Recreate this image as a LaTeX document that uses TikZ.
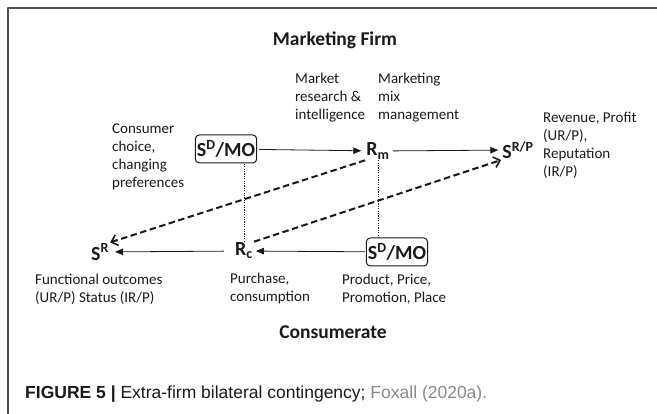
\documentclass[tikz,border=0pt]{standalone}
\usepackage{fontspec}
\setmainfont{Carlito}
\newfontfamily\capfont{Liberation Sans}
\usetikzlibrary{arrows}
\usetikzlibrary{arrows.meta}
\usetikzlibrary{positioning}
\definecolor{ink}{HTML}{1A1A1A}
\definecolor{framegray}{HTML}{505050}
\definecolor{citegray}{HTML}{8A8A8A}
\tikzset{
  sym/.style={font=\fontsize{20}{23}\selectfont\bfseries, inner sep=1pt},
  symbox/.style={sym, draw, rounded corners=4pt, line width=1pt, minimum width=60pt, minimum height=28pt, inner sep=1.5pt},
  lbl/.style={font=\fontsize{15}{18}\selectfont, align=left, anchor=west, inner sep=0pt},
  head/.style={font=\fontsize{19.5}{22}\selectfont\bfseries, inner sep=0pt},
  solidarr/.style={->, line width=0.8pt},
  dasharr/.style={-{Straight Barb[length=6pt,width=11pt,line width=1.6pt]}, line width=2pt, dash pattern=on 6.5pt off 3.5pt},
  link/.style={line width=0.6pt, dash pattern=on 1.2pt off 1.2pt}
}
\begin{document}
\begin{tikzpicture}[line cap=butt,line join=round,>=triangle 45,x=1pt,y=-1pt,color=ink,text=ink]
\useasboundingbox (0,0) rectangle (657,414);
\draw[framegray, line width=1.3pt] (657,8) -- (8,8) -- (8,414);
\node[head] (firm) at (335,40) {Marketing Firm};
\node[symbox] (sdtop) at (226,149) {S\textsuperscript{D}/MO};
\node[sym] (rm) at (378,151) {R\textsubscript{m}};
\node[sym] (srp) at (518,150) {S\textsuperscript{R/P}};
\node[sym] (sr) at (100,252) {S\textsuperscript{R}};
\node[sym] (rc) at (244,251) {R\textsubscript{c}};
\node[symbox] (sdbot) at (397,252) {S\textsuperscript{D}/MO};
\draw[solidarr, shorten <=2pt, shorten >=4pt] (sdtop) -- (rm);
\draw[solidarr, shorten <=2pt, shorten >=3pt] (rm) -- (srp);
\draw[solidarr, shorten <=1pt, shorten >=2pt] (sdbot) -- (rc);
\draw[solidarr, shorten <=10pt, shorten >=5pt] (rc) -- (sr);
\draw[link] (rc.north) -- (rc.north |- sdtop.south);
\draw[link] (rm.south) -- (rm.south |- sdbot.north);
\draw[dasharr] (rm.south west) -- (sr.north east);
\draw[dasharr] (rc.north east) -- (srp.south west);
\node[lbl] (choice) at (112,157) {Consumer\\choice,\\changing\\preferences};
\node[lbl] (research) at (295,98) {Market\\research \&\\intelligence};
\node[lbl] (mix) at (378,98) {Marketing\\mix\\management};
\node[lbl] (revenue) at (543,145) {Revenue, Profit\\(UR/P),\\Reputation\\(IR/P)};
\node[lbl] (functional) at (35,289) {Functional outcomes\\(UR/P) Status (IR/P)};
\node[lbl] (purchase) at (230,289) {Purchase,\\consumption};
\node[lbl] (product) at (342,289) {Product, Price,\\Promotion, Place};
\node[head] (consumerate) at (333,332) {Consumerate};
\node[anchor=west, font=\capfont\fontsize{17.5}{20}\selectfont, inner sep=0pt] (caption) at (25,394) {\textbf{FIGURE 5 |} Extra-firm bilateral contingency; \textcolor{citegray}{Foxall (2020a).}};
\end{tikzpicture}
\end{document}
